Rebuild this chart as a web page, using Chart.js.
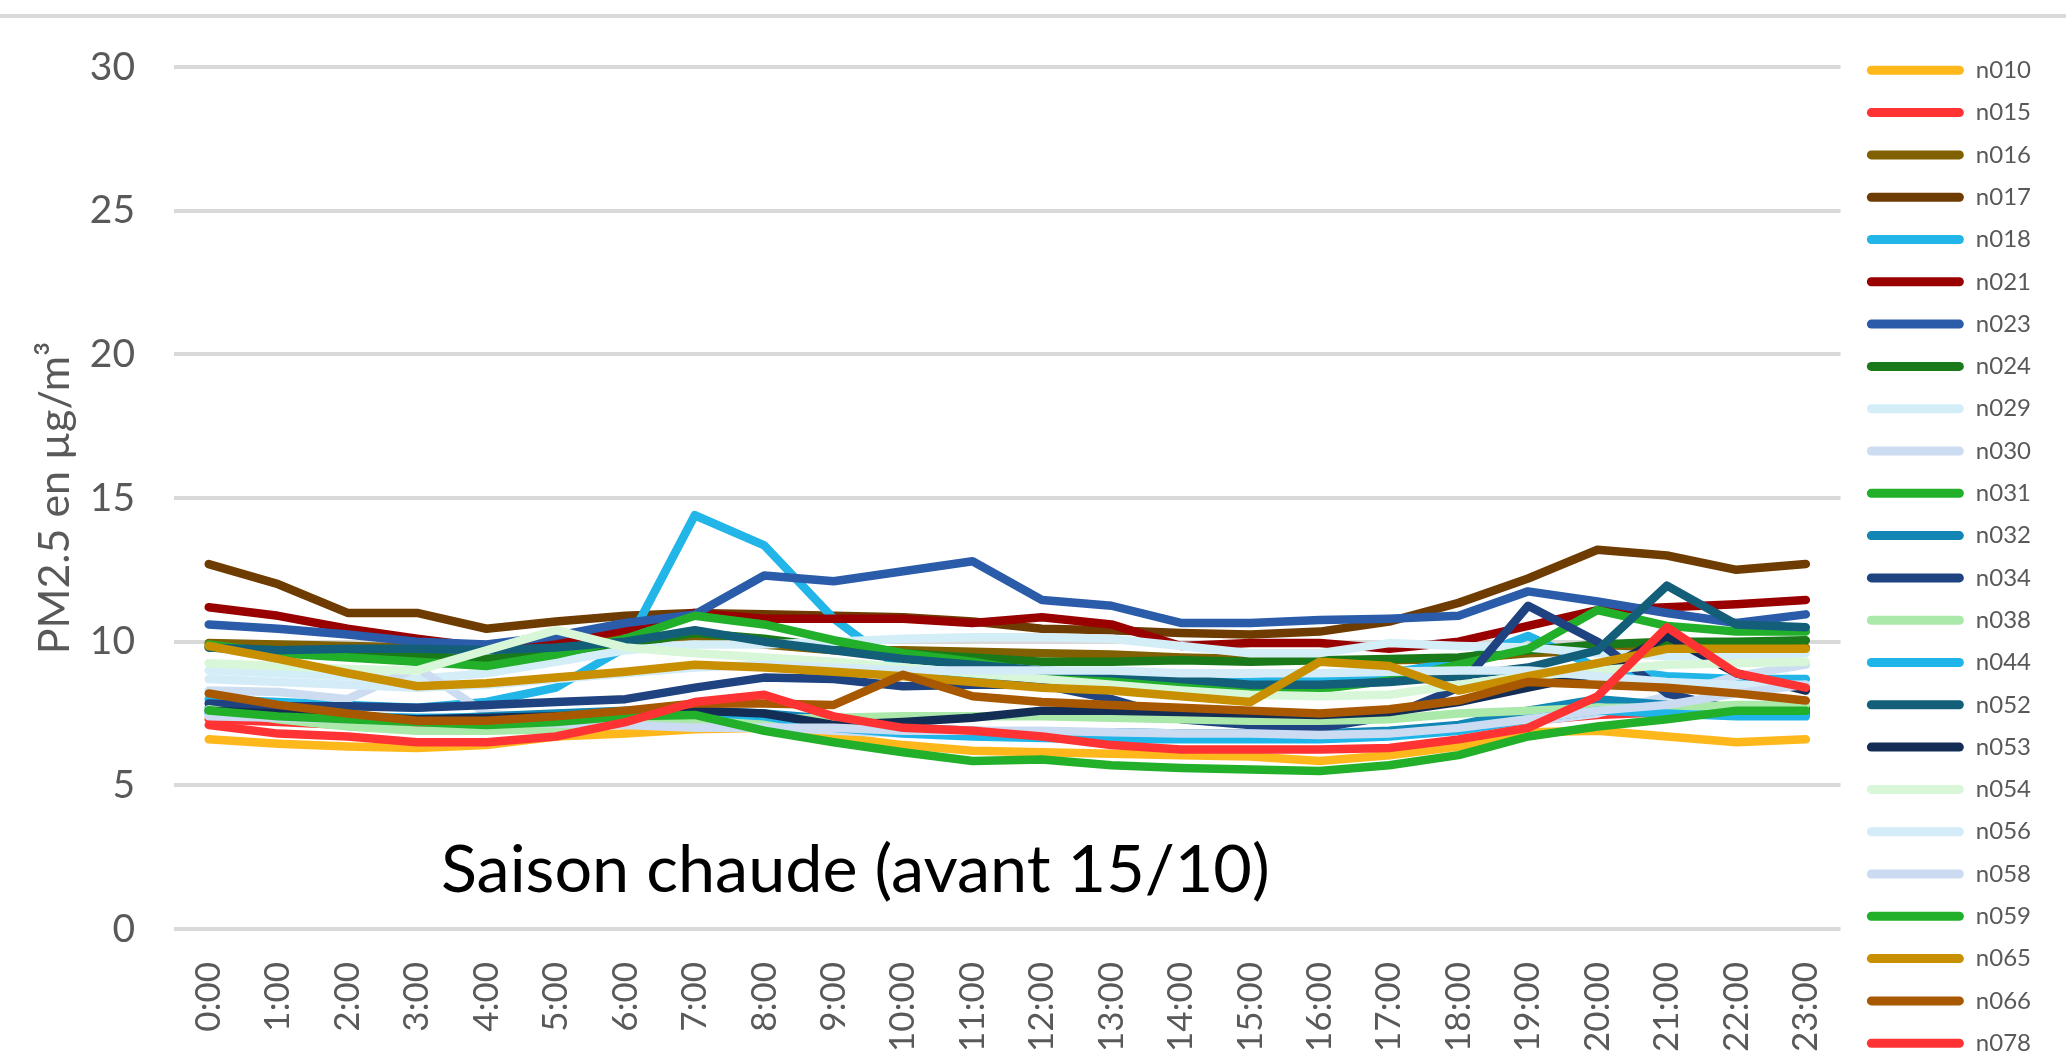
<!DOCTYPE html>
<html>
<head>
<meta charset="utf-8">
<title>PM2.5 - saison chaude</title>
<script src="https://cdn.jsdelivr.net/npm/chart.js@4.4.1/dist/chart.umd.min.js"></script>
<style>
  html, body { margin: 0; padding: 0; background: #ffffff; }
  canvas { display: block; }
</style>
</head>
<body>
<canvas id="pmChart" width="2066" height="1059"></canvas>
<script>
// hourly profiles, PM2.5 in µg/m³
const hours = ["0:00", "1:00", "2:00", "3:00", "4:00", "5:00", "6:00", "7:00", "8:00", "9:00", "10:00", "11:00",
    "12:00", "13:00", "14:00", "15:00", "16:00", "17:00", "18:00", "19:00", "20:00", "21:00", "22:00", "23:00"];

const yTicks = [0, 5, 10, 15, 20, 25, 30];

const n010 = [6.6, 6.45, 6.35, 6.3, 6.4, 6.7, 6.8, 6.95, 7.0, 6.7, 6.4, 6.2, 6.15, 6.1, 6.05, 6.0, 5.85, 6.05, 6.35, 6.85, 6.9, 6.7, 6.5, 6.6];
const n015 = [7.3, 7.2, 7.1, 7.0, 7.0, 7.1, 7.15, 7.2, 7.2, 7.1, 6.95, 6.85, 6.85, 6.8, 6.75, 6.75, 6.7, 6.8, 6.95, 7.25, 7.45, 7.55, 7.55, 7.5];
const n016 = [9.95, 9.9, 9.85, 9.8, 9.75, 9.9, 10.1, 10.2, 9.9, 9.7, 9.7, 9.65, 9.6, 9.55, 9.45, 9.4, 9.35, 9.35, 9.4, 9.6, 9.7, 9.8, 9.8, 9.8];
const n017 = [12.7, 12.0, 11.0, 11.0, 10.45, 10.7, 10.9, 11.0, 10.95, 10.9, 10.85, 10.7, 10.45, 10.4, 10.3, 10.25, 10.35, 10.7, 11.35, 12.2, 13.2, 13.0, 12.5, 12.7];
const n018 = [8.0, 7.9, 7.8, 7.7, 7.9, 8.4, 9.8, 14.4, 13.35, 10.8, 9.0, 8.8, 8.7, 8.65, 8.6, 8.6, 8.7, 8.9, 9.3, 10.2, 9.1, 8.8, 8.7, 8.7];
const n021 = [11.2, 10.9, 10.45, 10.1, 9.8, 10.0, 10.4, 11.0, 10.8, 10.8, 10.8, 10.65, 10.85, 10.6, 9.85, 9.95, 9.95, 9.75, 10.0, 10.55, 11.1, 11.2, 11.3, 11.45];
const n023 = [10.6, 10.45, 10.25, 10.0, 9.9, 10.2, 10.65, 10.95, 12.3, 12.1, 12.45, 12.8, 11.45, 11.25, 10.65, 10.65, 10.75, 10.8, 10.9, 11.75, 11.4, 11.0, 10.65, 10.95];
const n024 = [9.8, 9.7, 9.6, 9.5, 9.4, 9.6, 9.9, 10.3, 10.1, 9.8, 9.6, 9.45, 9.3, 9.3, 9.35, 9.3, 9.35, 9.4, 9.45, 9.7, 9.9, 10.0, 10.0, 10.05];
const n029 = [9.0, 8.9, 8.8, 8.7, 8.9, 9.3, 9.7, 9.9, 9.9, 10.0, 10.1, 10.15, 10.15, 10.1, 9.85, 9.6, 9.6, 9.95, 9.85, 9.8, 9.6, 9.5, 9.5, 9.6];
const n030 = [8.3, 8.25, 8.0, 9.1, 7.5, 7.3, 7.2, 7.1, 7.05, 6.9, 6.8, 6.8, 6.8, 6.75, 6.7, 6.7, 6.7, 6.75, 6.9, 7.2, 7.5, 8.1, 8.8, 9.2];
const n031 = [9.9, 9.6, 9.45, 9.3, 9.15, 9.55, 10.1, 10.9, 10.6, 10.05, 9.6, 9.3, 8.9, 8.75, 8.55, 8.4, 8.35, 8.65, 9.2, 9.75, 11.1, 10.55, 10.35, 10.35];
const n032 = [7.7, 7.5, 7.4, 7.3, 7.4, 7.5, 7.6, 7.6, 7.5, 7.3, 7.0, 6.9, 6.8, 6.85, 6.8, 6.8, 6.8, 6.9, 7.1, 7.6, 8.0, 7.8, 7.6, 7.5];
const n034 = [7.85, 7.75, 7.75, 7.7, 7.8, 7.9, 8.0, 8.4, 8.75, 8.7, 8.45, 8.5, 8.5, 8.0, 7.3, 7.1, 7.0, 7.4, 8.4, 11.25, 10.0, 8.2, 7.6, 7.7];
const n038 = [7.65, 7.3, 7.05, 6.9, 6.9, 6.95, 7.15, 7.3, 7.3, 7.35, 7.4, 7.4, 7.4, 7.35, 7.3, 7.25, 7.25, 7.3, 7.5, 7.6, 7.7, 7.7, 7.8, 7.8];
const n044 = [7.5, 7.45, 7.4, 7.35, 7.35, 7.4, 7.5, 7.55, 7.4, 7.0, 6.8, 6.7, 6.65, 6.6, 6.6, 6.6, 6.6, 6.7, 6.9, 7.3, 7.6, 7.5, 7.4, 7.4];
const n052 = [9.8, 9.7, 9.75, 9.75, 9.7, 9.8, 10.0, 10.4, 10.0, 9.7, 9.4, 9.2, 9.0, 8.9, 8.7, 8.5, 8.5, 8.6, 8.8, 9.1, 9.7, 11.95, 10.6, 10.5];
const n053 = [7.6, 7.5, 7.4, 7.3, 7.35, 7.4, 7.5, 7.6, 7.5, 7.1, 7.2, 7.35, 7.6, 7.6, 7.55, 7.5, 7.45, 7.55, 7.9, 8.4, 8.9, 10.2, 8.9, 8.3];
const n054 = [9.25, 9.15, 9.05, 9.0, 9.7, 10.4, 9.8, 9.6, 9.45, 9.3, 9.1, 8.9, 8.7, 8.5, 8.3, 8.15, 8.1, 8.15, 8.5, 8.8, 9.0, 9.2, 9.25, 9.3];
const n056 = [8.7, 8.6, 8.5, 8.4, 8.5, 8.7, 8.9, 9.1, 9.2, 9.1, 9.0, 9.0, 9.0, 9.0, 8.9, 8.9, 8.9, 8.95, 9.0, 9.0, 8.8, 8.6, 8.5, 8.5];
const n058 = [7.4, 7.35, 7.3, 7.2, 7.2, 7.15, 7.1, 7.0, 7.0, 7.0, 6.9, 6.9, 6.9, 6.85, 6.8, 6.8, 6.75, 6.8, 7.0, 7.3, 7.6, 7.8, 8.2, 8.5];
const n059 = [7.6, 7.4, 7.3, 7.2, 7.1, 7.2, 7.4, 7.45, 6.9, 6.5, 6.15, 5.85, 5.9, 5.7, 5.6, 5.55, 5.5, 5.7, 6.05, 6.7, 7.05, 7.3, 7.6, 7.6];
const n065 = [9.85, 9.4, 8.9, 8.45, 8.55, 8.75, 8.95, 9.2, 9.1, 8.95, 8.8, 8.6, 8.4, 8.3, 8.1, 7.9, 9.3, 9.15, 8.3, 8.8, 9.25, 9.75, 9.75, 9.75];
const n066 = [8.2, 7.8, 7.5, 7.25, 7.25, 7.4, 7.6, 7.85, 7.85, 7.8, 8.85, 8.1, 7.9, 7.8, 7.7, 7.6, 7.5, 7.65, 7.95, 8.6, 8.5, 8.4, 8.2, 7.95];
const n078 = [7.1, 6.8, 6.7, 6.5, 6.5, 6.7, 7.2, 7.9, 8.15, 7.4, 7.0, 6.9, 6.7, 6.4, 6.25, 6.25, 6.25, 6.3, 6.6, 7.0, 8.1, 10.5, 8.9, 8.4];

const stationNames = ["n010", "n015", "n016", "n017", "n018", "n021", "n023", "n024", "n029", "n030", "n031", "n032",
    "n034", "n038", "n044", "n052", "n053", "n054", "n056", "n058", "n059", "n065", "n066", "n078"];
const stationValues = [n010, n015, n016, n017, n018, n021, n023, n024, n029, n030, n031, n032,
    n034, n038, n044, n052, n053, n054, n056, n058, n059, n065, n066, n078];
const stationColors = ["#FFB81C", "#FF3333", "#806000", "#6E3B00", "#22B5E8", "#990000", "#2A5CAA", "#1A7A1A",
    "#D4EEF8", "#CCDDF2", "#22B02A", "#1287B5", "#1F4380", "#ABE9AB", "#1FB5E9", "#135F7A",
    "#132D55", "#D8F7D8", "#D3ECF8", "#CADBF2", "#22B02A", "#C88F00", "#A85800", "#FF3333"];

const seasonLabel = "Saison chaude (avant 15/10)";
const yTitle = "PM2.5 en µg/m³";

Chart.defaults.font.family = "Lato, 'Open Sans', sans-serif";
Chart.defaults.color = "#595959";

// top rule of the page, season caption, legend nudge
const pageDecor = {
    id: "pageDecor",
    afterLayout(chart) {
        // the legend gets the full canvas height so it stays in one column,
        // then it is moved down/right to where the spreadsheet had it
        const lg = chart.legend;
        lg.top += 40;
        lg.bottom += 40;
        lg.left += 8;
        lg.right += 8;
    },
    beforeDraw(chart) {
        const ctx = chart.ctx;
        ctx.save();
        ctx.fillStyle = "#ffffff";
        ctx.fillRect(0, 0, chart.width, chart.height);
        ctx.fillStyle = "#d9d9d9";
        ctx.fillRect(0, 14, chart.width, 4);
        ctx.restore();
    },
    afterDraw(chart) {
        const ctx = chart.ctx;
        ctx.save();
        ctx.fillStyle = "#000000";
        ctx.font = "66.5px Lato";
        ctx.textBaseline = "alphabetic";
        ctx.fillText(seasonLabel, 441, 892);
        ctx.restore();
    }
};

function buildDatasets() {
    // later series drawn on top, like the spreadsheet
    return stationNames.map((name, i) => ({
        label: name,
        data: stationValues[i],
        borderColor: stationColors[i],
        backgroundColor: stationColors[i],
        borderWidth: 8.5,
        borderCapStyle: "round",
        borderJoinStyle: "round",
        pointRadius: 0,
        pointHoverRadius: 0,
        tension: 0,
        fill: false,
        order: -i
    }));
}

const ctx = document.getElementById("pmChart").getContext("2d");
const pmChart = new Chart(ctx, {
    type: "line",
    data: {
        labels: hours,
        datasets: buildDatasets()
    },
    options: {
        responsive: false,
        animation: false,
        devicePixelRatio: 1,
        layout: {
            padding: { top: 0, bottom: 0, left: 0, right: 33 }
        },
        scales: {
            x: {
                offset: true,
                grid: { display: false, drawTicks: false },
                border: { display: false },
                afterFit(axis) {
                    axis.height = 130;
                },
                ticks: {
                    minRotation: 90,
                    maxRotation: 90,
                    padding: 33,
                    color: "#595959",
                    font: { size: 35 }
                }
            },
            y: {
                min: yTicks[0],
                max: yTicks[yTicks.length - 1],
                grid: { color: "#d9d9d9", lineWidth: 4, drawTicks: false },
                border: { display: false },
                afterBuildTicks(axis) {
                    axis.ticks = yTicks.map(v => ({ value: v }));
                },
                afterFit(axis) {
                    axis.width = 174;
                },
                ticks: {
                    padding: 39,
                    color: "#595959",
                    font: { size: 39 }
                },
                title: {
                    display: true,
                    text: yTitle,
                    color: "#595959",
                    font: { size: 43 },
                    padding: { top: 29, bottom: 0 }
                }
            }
        },
        plugins: {
            // empty block above the plot only, so the legend keeps full height
            title: {
                display: true,
                text: " ",
                fullSize: false,
                font: { size: 10 },
                padding: { top: 0, bottom: 55 }
            },
            legend: {
                position: "right",
                align: "start",
                labels: {
                    boxWidth: 97,
                    boxHeight: 9,
                    padding: 18.3,
                    useBorderRadius: true,
                    borderRadius: 4.5,
                    color: "#595959",
                    font: { size: 24 },
                    sort: (a, b) => a.datasetIndex - b.datasetIndex,
                    generateLabels(chart) {
                        const items = Chart.defaults.plugins.legend.labels.generateLabels(chart);
                        items.forEach(item => {
                            item.fillStyle = item.strokeStyle;
                            item.lineWidth = 0;
                        });
                        return items;
                    }
                }
            },
            tooltip: { enabled: false }
        }
    },
    plugins: [pageDecor]
});
</script>
</body>
</html>
